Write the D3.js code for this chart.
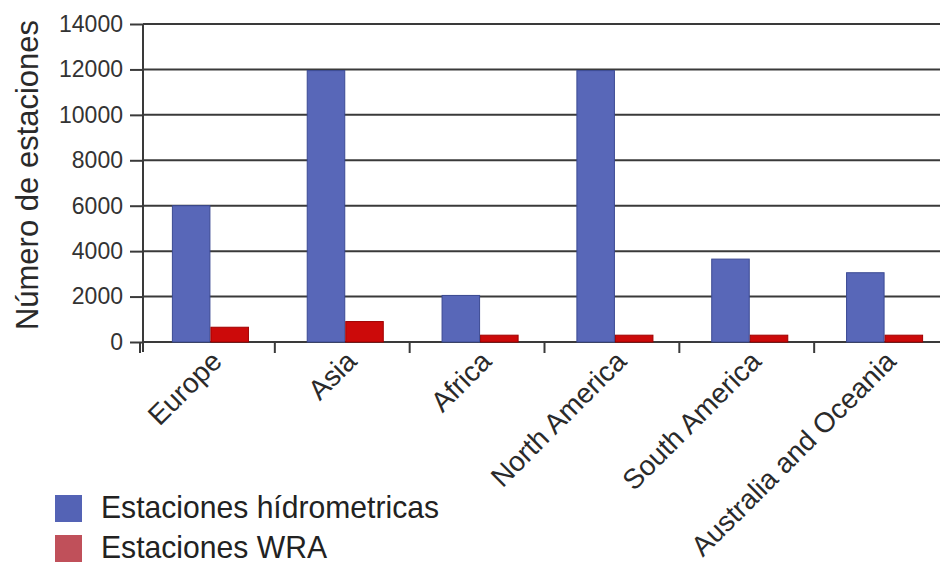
<!DOCTYPE html>
<html><head><meta charset="utf-8">
<script src="https://cdn.jsdelivr.net/npm/d3@7"></script>
<style>body{margin:0;background:#fff;}svg{display:block;font-family:"Liberation Sans",Arial,sans-serif;}</style>
</head><body>
<svg id="c" width="940" height="565"></svg>
<script>
const categories = ["Europe","Asia","Africa","North America","South America","Australia and Oceania"];
const hidrometricas = [6000, 11950, 2050, 11950, 3650, 3050];
const wra = [650, 900, 300, 300, 300, 300];
const seriesNames = ["Estaciones hídrometricas","Estaciones WRA"];
const yTicks = [0,2000,4000,6000,8000,10000,12000,14000];
const yTitle = "Número de estaciones";

const svg = d3.select("#c");
const x0 = 143, x1 = 952, yTop = 24, yBot = 342;
const x = d3.scaleBand().domain(categories).range([x0, x1]).paddingInner(0).paddingOuter(0);
const y = d3.scaleLinear().domain([0,14000]).range([yBot, yTop]);
const inner = d3.scaleBand().domain([0,1]).range([0, x.bandwidth()]).paddingOuter(0.75).paddingInner(0);

// gridlines
svg.append("g").selectAll("line").data(yTicks).join("line")
  .attr("x1", x0).attr("x2", 940).attr("y1", d=>y(d)).attr("y2", d=>y(d))
  .attr("stroke", "#3a3a3a").attr("stroke-width", 2);

// bars
const colors = ["#5867b8", "#cc0a0a"];
const strokes = ["#3b4a93", "#a00000"];
const data = categories.map((c,i)=>({c, v:[hidrometricas[i], wra[i]]}));
const g = svg.append("g");
data.forEach(d=>{
  d.v.forEach((v,k)=>{
    g.append("rect")
      .attr("x", x(d.c)+inner(k)+0.5)
      .attr("y", y(v))
      .attr("width", inner.bandwidth()-1)
      .attr("height", yBot - y(v))
      .attr("fill", colors[k]).attr("stroke", strokes[k]).attr("stroke-width", 1);
  });
});

// y axis
const yAxis = d3.axisLeft(y).tickValues(yTicks).tickSize(13).tickPadding(7).tickFormat(d3.format("d"));
const ya = svg.append("g").attr("transform", `translate(${x0},0)`).call(yAxis);
ya.select(".domain").attr("stroke", "#3a3a3a").attr("stroke-width", 2).attr("d", `M0,${yTop}V${yBot+10}`);
ya.selectAll(".tick line").attr("stroke", "#3a3a3a").attr("stroke-width", 2);
ya.selectAll(".tick text").attr("font-size", 23).attr("fill", "#333").attr("font-family", "Liberation Sans, Arial, sans-serif");

// x axis
const xAxis = d3.axisBottom(x).tickSize(0).tickFormat(d=>d);
const xa = svg.append("g").attr("transform", `translate(0,${yBot})`).call(xAxis);
xa.select(".domain").remove();
xa.selectAll(".tick text").remove();
// category ticks at band boundaries
svg.append("g").selectAll("line").data(categories).join("line")
  .attr("x1", d=>x(d)-3).attr("x2", d=>x(d)-3).attr("y1", yBot).attr("y2", yBot+11)
  .attr("stroke", "#3a3a3a").attr("stroke-width", 2);
// labels
svg.append("g").selectAll("text").data(categories).join("text")
  .attr("transform", d=>`translate(${x(d)+x.bandwidth()/2+13},${yBot+21}) rotate(-45)`)
  .attr("text-anchor", "end").attr("font-size", 28).attr("fill", "#2a2a2a")
  .text(d=>d);

// y title
svg.append("text")
  .attr("transform", `translate(38,${(yTop+yBot)/2 - 8}) rotate(-90)`)
  .attr("text-anchor", "middle").attr("font-size", 31).attr("fill", "#2a2a2a")
  .text(yTitle);

// legend
const legColors = ["#5463b5", "#c0505a"];
const legLens = [338, 226];
const lg = svg.append("g");
seriesNames.forEach((n,i)=>{
  const base = 518 + i*40;
  lg.append("rect").attr("x", 55).attr("y", base-23).attr("width", 27).attr("height", 27).attr("fill", legColors[i]);
  lg.append("text").attr("x", 101).attr("y", base).attr("font-size", 32).attr("fill", "#222")
    .attr("textLength", legLens[i]).attr("lengthAdjust", "spacingAndGlyphs").text(n);
});
</script>
</body></html>
